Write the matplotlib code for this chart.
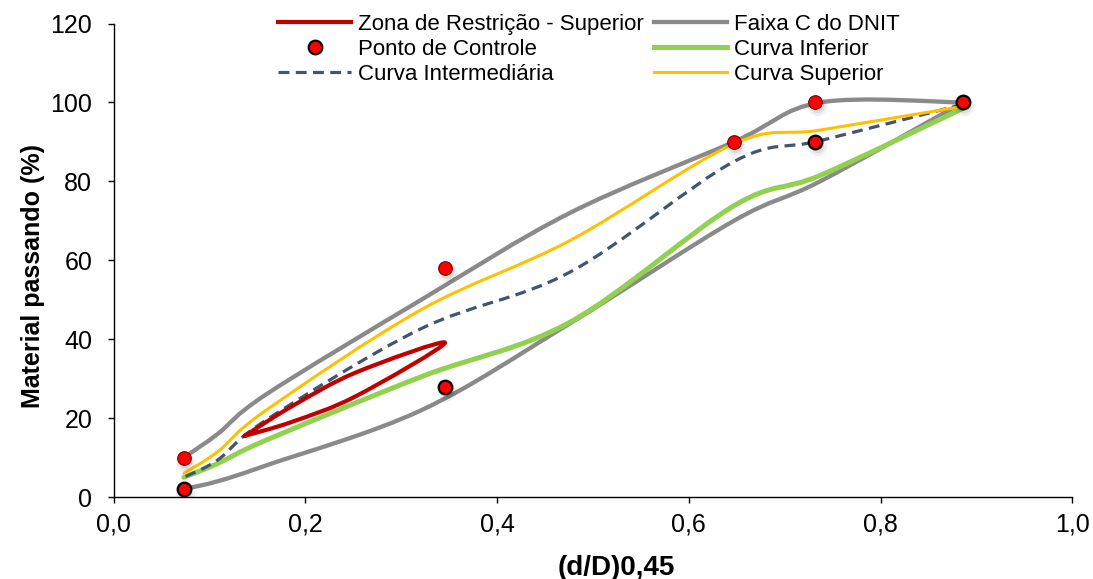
import matplotlib
matplotlib.use("Agg")
import matplotlib.pyplot as plt
from matplotlib.path import Path
from matplotlib.patches import PathPatch
from matplotlib.lines import Line2D
from matplotlib.ticker import FuncFormatter
import matplotlib.transforms as mtransforms

plt.rcParams['font.family'] = ['Liberation Sans', 'DejaVu Sans']

# (d/D)^0.45 positions of the DNIT sieves (19.1, 12.7, 9.5, 4.8, 2.0, 0.42, 0.18, 0.075 mm)
x_dnit = [0.886, 0.737, 0.647, 0.476, 0.321, 0.159, 0.1086, 0.0732]
faixa_sup = [100, 100, 90, 72, 50, 26, 16, 10]
faixa_inf = [100, 80, 70, 44, 22, 8, 4, 2]
curva_superior = [99, 93, 89.5, 65, 47.5, 22, 11.5, 6]
curva_intermediaria = [99.5, 90.3, 85, 57, 42.7, 19.5, 9.4, 5]
curva_inferior = [98.5, 81.5, 73.8, 44.3, 30.5, 14.4, 8.5, 5]

# Restriction zone (2.36, 1.18, 0.6, 0.3 mm)
x_rz = [0.1367, 0.1867, 0.2531, 0.3457, 0.2531, 0.1867, 0.1367]
y_rz = [15.5, 23.1, 31.6, 39.1, 25.6, 19.1, 15.5]

# Control points
x_ctrl_a = [0.0732, 0.3457, 0.732, 0.886]
y_ctrl_a = [2, 28, 90, 100]
x_ctrl_b = [0.0732, 0.3457, 0.647, 0.732]
y_ctrl_b = [10, 58, 90, 100]

x_ticks = [0.0, 0.2, 0.4, 0.6, 0.8, 1.0]
y_ticks = [0, 20, 40, 60, 80, 100, 120]


def smooth_path(xs, ys):
    pts = list(zip(xs, ys))
    n = len(pts)
    verts = [pts[0]]
    codes = [Path.MOVETO]
    for i in range(n - 1):
        p0 = pts[i - 1] if i > 0 else pts[i]
        p1 = pts[i]
        p2 = pts[i + 1]
        p3 = pts[i + 2] if i + 2 < n else pts[i + 1]
        c1 = (p1[0] + (p2[0] - p0[0]) / 6.0, p1[1] + (p2[1] - p0[1]) / 6.0)
        c2 = (p2[0] - (p3[0] - p1[0]) / 6.0, p2[1] - (p3[1] - p1[1]) / 6.0)
        verts += [c1, c2, p2]
        codes += [Path.CURVE4] * 3
    return Path(verts, codes)


fig = plt.figure(figsize=(10.93, 5.79), dpi=100)
ax = fig.add_axes([0.104, 0.1416, 0.877, 0.8178])
ax.set_xlim(0, 1.0)
ax.set_ylim(0, 120)

c_gray = '#8a8a8a'
c_green = '#92D050'
c_yellow = '#FFC000'
c_dash = '#44546A'
c_red = '#C00000'


def add_curve(xs, ys, color, lw, z, dashes=None):
    patch = PathPatch(smooth_path(xs, ys), facecolor='none', edgecolor=color,
                      lw=lw, zorder=z, capstyle='round', joinstyle='round')
    if dashes is not None:
        patch.set_linestyle((0, dashes))
        patch.set_capstyle('butt')
    ax.add_patch(patch)


add_curve(x_dnit, faixa_sup, c_gray, 3.1, 2)
add_curve(x_dnit, faixa_inf, c_gray, 3.1, 2)
add_curve(x_dnit, curva_inferior, c_green, 3.6, 3)
add_curve(x_dnit, curva_intermediaria, c_dash, 2.3, 4, dashes=(3.4, 2.0))
add_curve(x_dnit, curva_superior, c_yellow, 2.2, 5)
add_curve(x_rz, y_rz, c_red, 3.0, 6)

# marker shadows
shadow_tr = mtransforms.offset_copy(ax.transData, fig=fig, x=1.5, y=-4, units='dots')
for xs, ys in [(x_ctrl_a, y_ctrl_a), (x_ctrl_b, y_ctrl_b)]:
    ax.plot(xs, ys, 'o', ms=14, color='#000000', alpha=0.06, mew=0, transform=shadow_tr, zorder=7)
    ax.plot(xs, ys, 'o', ms=10, color='#000000', alpha=0.08, mew=0, transform=shadow_tr, zorder=7)

ax.plot(x_ctrl_b, y_ctrl_b, 'o', ms=9.8, mfc='#FF0000', mec='#7a0000', mew=0.8, ls='none', zorder=8)
ax.plot(x_ctrl_a, y_ctrl_a, 'o', ms=9.8, mfc='#FF0000', mec='#000000', mew=1.6, ls='none', zorder=8)

ax.spines['top'].set_visible(False)
ax.spines['right'].set_visible(False)
for s in ['left', 'bottom']:
    ax.spines[s].set_linewidth(1.0)
ax.set_xticks(x_ticks)
ax.set_yticks(y_ticks)
ax.xaxis.set_major_formatter(FuncFormatter(lambda v, p: f"{v:.1f}".replace('.', ',')))
ax.tick_params(axis='both', direction='out', length=4.5, width=1.0, labelsize=18)
ax.tick_params(axis='y', pad=11)
ax.tick_params(axis='x', pad=7)
ax.set_ylabel('Material passando (%)', fontsize=18, fontweight='bold')
ax.yaxis.set_label_coords(-0.0716, 0.467)
ax.set_xlabel('(d/D)0,45', fontsize=20, fontweight='bold')
ax.xaxis.set_label_coords(0.524, -0.122)

handles = [
    Line2D([], [], color=c_red, lw=3.0),
    Line2D([], [], marker='o', ls='none', ms=9.8, mfc='#FF0000', mec='#000000', mew=1.6),
    Line2D([], [], color=c_dash, lw=2.3, dashes=(3.4, 2.0)),
    Line2D([], [], color=c_gray, lw=3.1),
    Line2D([], [], color=c_green, lw=3.6),
    Line2D([], [], color=c_yellow, lw=2.2),
]
labels = ['Zona de Restrição - Superior', 'Ponto de Controle', 'Curva Intermediária',
          'Faixa C do DNIT', 'Curva Inferior', 'Curva Superior']
fig.legend(handles, labels, loc='upper left', bbox_to_anchor=(278 / 1093, 1 - 14 / 579),
           ncol=2, frameon=False, fontsize=16, handlelength=3.3, handletextpad=0.3,
           columnspacing=0.45, labelspacing=0.18, borderpad=0, borderaxespad=0)

fig.savefig('out.png', dpi=100)
